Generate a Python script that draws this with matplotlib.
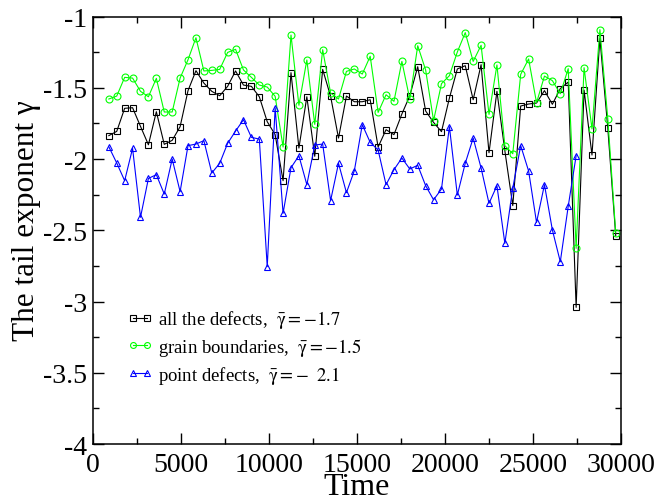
import numpy as np
import matplotlib
matplotlib.use("Agg")
import matplotlib.pyplot as plt
from matplotlib.ticker import MultipleLocator

plt.rcParams['font.family'] = ['Liberation Serif', 'DejaVu Serif']
plt.rcParams['mathtext.fontset'] = 'stix'
plt.rcParams['axes.unicode_minus'] = False

# sampling times (every 450 starting at 900)
time_all = [900 + 450 * k for k in range(65)]
time_point = time_all[:60]

gamma_all = [-1.836, -1.806, -1.644, -1.640, -1.771, -1.900, -1.668, -1.897, -1.869, -1.773,
             -1.520, -1.380, -1.467, -1.525, -1.556, -1.490, -1.382, -1.481, -1.490, -1.563,
             -1.738, -1.829, -2.152, -1.394, -1.923, -1.563, -1.981, -1.371, -1.560, -1.853,
             -1.558, -1.598, -1.598, -1.584, -1.916, -1.794, -1.829, -1.684, -1.556, -1.352,
             -1.663, -1.743, -1.808, -1.572, -1.368, -1.345, -1.584, -1.338, -1.956, -1.525,
             -1.942, -2.327, -1.628, -1.614, -1.607, -1.520, -1.616, -1.506, -1.460, -3.041,
             -1.516, -1.972, -1.153, -1.785, -2.538]

gamma_grain = [-1.579, -1.558, -1.427, -1.432, -1.525, -1.563, -1.434, -1.670, -1.670, -1.432,
               -1.303, -1.149, -1.382, -1.378, -1.371, -1.252, -1.230, -1.375, -1.427, -1.481,
               -1.495, -1.560, -1.916, -1.130, -1.623, -1.305, -1.757, -1.233, -1.537, -1.579,
               -1.385, -1.368, -1.404, -1.279, -1.673, -1.549, -1.595, -1.315, -1.581, -1.205,
               -1.375, -1.731, -1.471, -1.415, -1.249, -1.113, -1.315, -1.202, -1.687, -1.340,
               -1.906, -1.963, -1.406, -1.298, -1.605, -1.418, -1.450, -1.542, -1.366, -2.627,
               -1.359, -1.789, -1.092, -1.719, -2.519]

gamma_point = [-1.914, -2.028, -2.152, -1.925, -2.409, -2.136, -2.110, -2.246, -2.000, -2.229,
               -1.906, -1.895, -1.871, -2.098, -2.030, -1.890, -1.804, -1.724, -1.848, -1.860,
               -2.755, -1.640, -2.381, -2.061, -1.977, -2.180, -1.902, -1.895, -2.292, -2.030,
               -2.236, -2.082, -1.759, -1.883, -1.937, -2.180, -2.075, -1.993, -2.070, -2.044,
               -2.187, -2.286, -2.211, -1.773, -2.253, -2.030, -1.853, -2.063, -2.311, -2.187,
               -2.592, -2.204, -1.906, -2.084, -2.445, -2.180, -2.498, -2.721, -2.332, -1.977]

fig = plt.figure(figsize=(6.58, 5.02), dpi=100)
ax = fig.add_axes([0.1413, 0.1135, 0.8025, 0.8516])

ax.plot(time_all, gamma_all, color='black', lw=0.8, marker='s', ms=4.5,
        mfc='none', mew=0.8, label=r'all the defects,  $\bar{\mathrm{\gamma}} = -1.7$')
ax.plot(time_all, gamma_grain, color='#00ff00', lw=0.8, marker='o', ms=5,
        mfc='none', mew=0.8, label=r'grain boundaries,  $\bar{\mathrm{\gamma}} = -1.5$')
ax.plot(time_point, gamma_point, color='#0000ff', lw=0.8, marker='^', ms=5,
        mfc='none', mew=0.8, label=r'point defects,  $\bar{\mathrm{\gamma}} =\!-\ 2.1$')

ax.set_xlim(0, 30000)
ax.set_ylim(-4, -1)
ax.xaxis.set_major_locator(MultipleLocator(5000))
ax.xaxis.set_minor_locator(MultipleLocator(2500))
ax.yaxis.set_major_locator(MultipleLocator(0.5))
ax.yaxis.set_minor_locator(MultipleLocator(0.25))
ax.yaxis.set_major_formatter(plt.FuncFormatter(lambda v, p: ('%g' % v)))
ax.tick_params(which='both', direction='in', top=True, right=True, width=1.0)
ax.tick_params(which='major', length=8, labelsize=20, pad=4)
ax.tick_params(which='minor', length=4)
ax.tick_params(axis='x', which='major', pad=6)
for s in ax.spines.values():
    s.set_linewidth(1.1)

ax.set_xlabel('Time', fontsize=23, labelpad=-4)
ax.set_ylabel('The tail exponent γ', fontsize=22.5)
ax.yaxis.set_label_coords(-0.098, 0.526)

ax.legend(loc='center left', bbox_to_anchor=(0.066, 0.227), frameon=False,
          fontsize=13.5, numpoints=2, markerscale=0.85, handlelength=1.3,
          handletextpad=0.3, labelspacing=0.3, borderpad=0, borderaxespad=0)

fig.savefig('out.png', dpi=100)
